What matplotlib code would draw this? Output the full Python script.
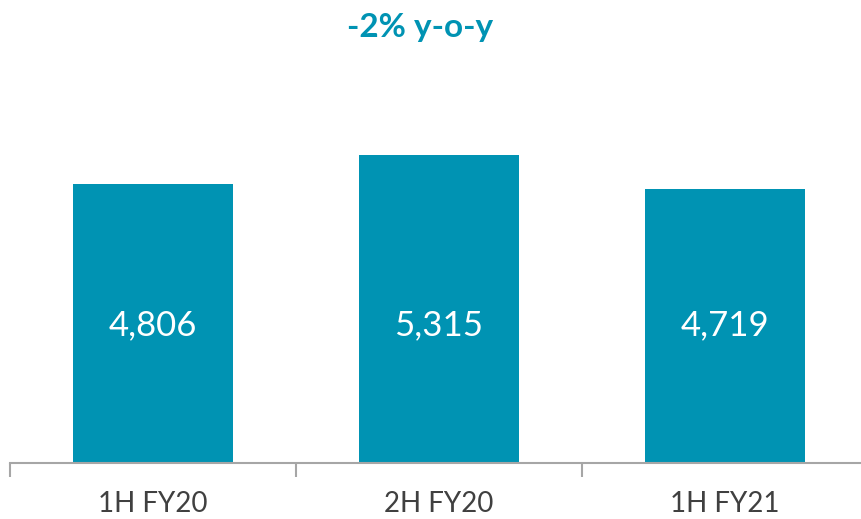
import numpy as np
import matplotlib.pyplot as plt

categories = ["1H FY20", "2H FY20", "1H FY21"]
values = [4806, 5315, 4719]
title = "-2% y-o-y"

teal = "#0093B3"
grey_text = "#404040"
axis_grey = "#A6A6A6"

fig = plt.figure(figsize=(8.62, 5.19), dpi=100)
ax = fig.add_axes([10 / 862, 56 / 519, 858 / 862, 403 / 519])

x = np.arange(len(categories))
ax.bar(x, values, width=0.556, color=teal, zorder=2)

ax.set_xlim(-0.5, len(categories) - 0.5)
ax.set_ylim(0, 6948)

for xi, v in zip(x, values):
    ax.text(xi, 2370, f"{v:,}", ha="center", va="center", color="white",
            fontsize=25, family="Lato")

for s in ["top", "right", "left"]:
    ax.spines[s].set_visible(False)
ax.spines["bottom"].set_color(axis_grey)
ax.spines["bottom"].set_linewidth(1.5)
ax.set_yticks([])

ax.set_xticks(x)
ax.set_xticklabels(categories, fontsize=20, color=grey_text, family="Lato")
ax.tick_params(axis="x", which="major", length=0, pad=20)
ax.set_xticks(np.arange(-0.5, len(categories)), minor=True)
ax.tick_params(axis="x", which="minor", length=10, width=1.5, color=axis_grey)

fig.text(420 / 862, 1 - 27 / 519, title, ha="center", va="center",
         color=teal, fontsize=24, fontweight="bold", family="Lato")

fig.savefig("out.png", dpi=100)
